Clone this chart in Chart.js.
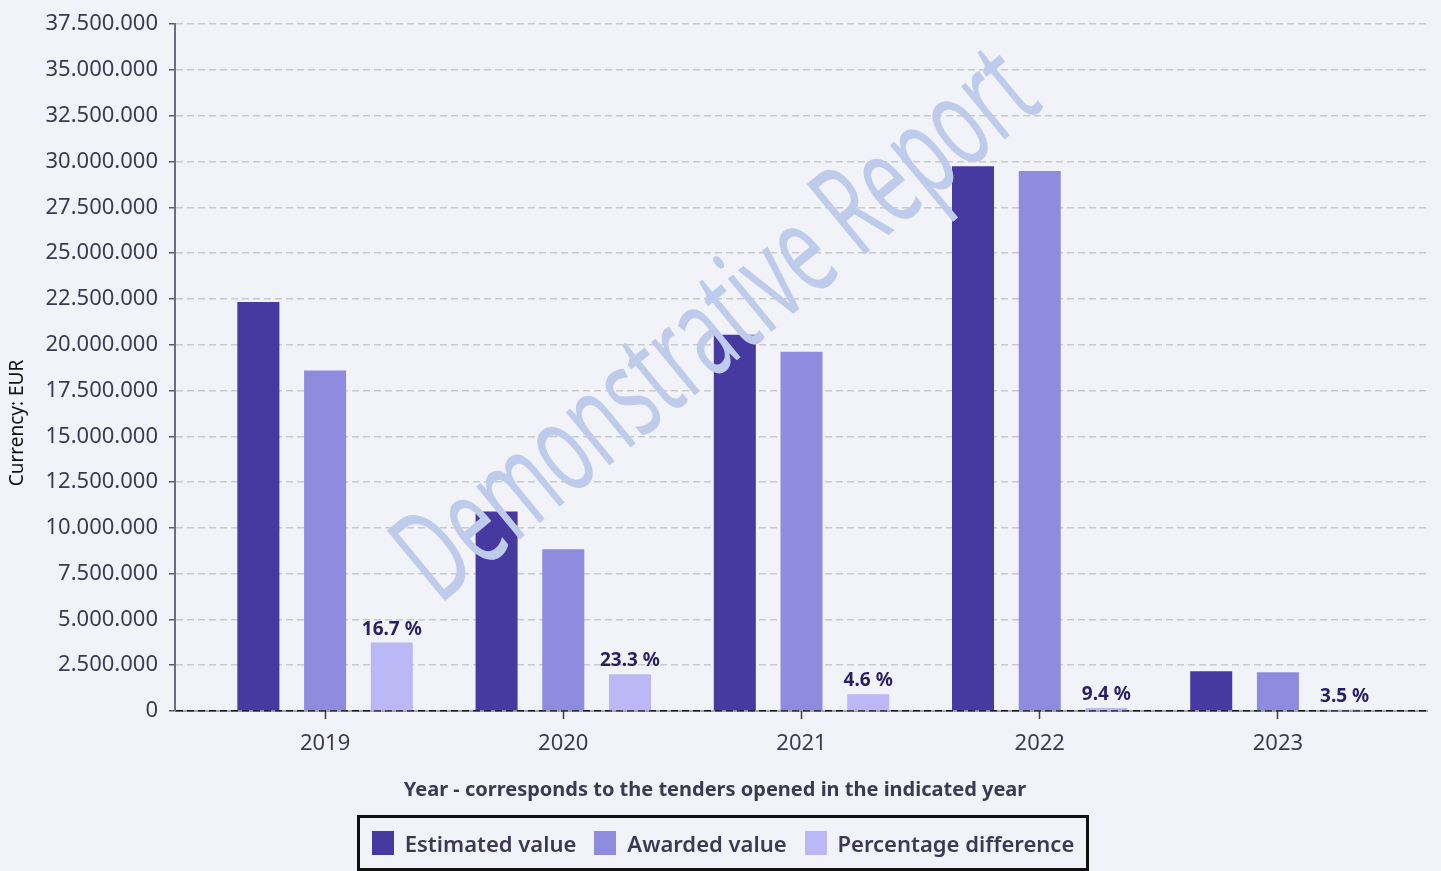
<!DOCTYPE html>
<html>
<head>
<meta charset="utf-8">
<script src="https://cdn.jsdelivr.net/npm/chart.js@4/dist/chart.umd.min.js"></script>
<style>
    html, body { margin: 0; padding: 0; background: #f2f3f8; }
    #wrap { position: relative; width: 1441px; height: 871px; }
    #legend {
        position: absolute; left: 357px; top: 815px; width: 726px; height: 50px;
        border: 3px solid #111; display: flex; align-items: center; justify-content: center;
        font-family: 'Noto Sans', sans-serif; font-weight: 600; font-size: 22px; color: #3c3a52;
    }
    #legend .item { display: flex; align-items: center; margin: 0 9px; }
    #legend .box { width: 22px; height: 24px; margin-right: 11px; }
</style>
</head>
<body>
<div id="wrap">
    <canvas id="chart"></canvas>
    <div id="legend"></div>
</div>
<script>
// Dados
const years = [2019, 2020, 2021, 2022, 2023];
const estimatedValue = [22330000, 10890000, 20540000, 29750000, 2170000];
const awardedValue = [18590000, 8830000, 19620000, 29480000, 2110000];
const differenceValue = [3740000, 2000000, 920000, 160000, 70000];
const percentLabels = [16.7, 23.3, 4.6, 9.4, 3.5];
const yTicksMax = 37500000;
const yTicksStep = 2500000;

const COLORS = {
    estimated: '#4639a0',
    awarded: '#8f8bde',
    difference: '#bcb8f6',
    text: '#3c3a52',
    label: '#281f63',
    watermark: '#bfcbea'
};

Chart.defaults.font.family = "'Noto Sans', sans-serif";
Chart.defaults.color = COLORS.text;

const toPoints = arr => arr.map((v, i) => ({ x: years[i], y: v }));
const formatThousands = v => String(v).replace(/\B(?=(\d{3})+(?!\d))/g, '.');

// Linha base, marca d'água, rótulos e títulos dos eixos
const extrasPlugin = {
    id: 'extras',
    beforeDraw(chart) {
        const { ctx, chartArea } = chart;
        const y0 = chart.scales.y.getPixelForValue(0);
        ctx.save();
        ctx.strokeStyle = '#a4a4ac';
        ctx.lineWidth = 2;
        ctx.beginPath();
        ctx.moveTo(chartArea.left, y0);
        ctx.lineTo(chartArea.right, y0);
        ctx.stroke();
        ctx.restore();
    },
    afterDatasetsDraw(chart) {
        const { ctx } = chart;
        ctx.save();
        ctx.translate(742, 356);
        ctx.rotate(-39.5 * Math.PI / 180);
        ctx.font = '128px "Noto Sans"';
        const w = ctx.measureText('Demonstrative Report').width;
        ctx.scale(785 / w, 1);
        ctx.fillStyle = COLORS.watermark;
        ctx.textAlign = 'center';
        ctx.textBaseline = 'alphabetic';
        ctx.fillText('Demonstrative Report', 0, 0);
        ctx.restore();

        // rótulos de percentagem
        const meta = chart.getDatasetMeta(2);
        ctx.save();
        ctx.font = 'bold 19px "Noto Sans"';
        ctx.fillStyle = COLORS.label;
        ctx.textAlign = 'center';
        ctx.textBaseline = 'alphabetic';
        meta.data.forEach((bar, i) => {
            ctx.fillText(percentLabels[i].toFixed(1) + ' %', bar.x, bar.y - 8);
        });
        ctx.restore();
    },
    afterDraw(chart) {
        const { ctx } = chart;
        ctx.save();
        ctx.fillStyle = COLORS.text;
        ctx.textAlign = 'center';
        ctx.textBaseline = 'middle';
        ctx.font = 'bold 20px "Noto Sans"';
        ctx.fillText('Year - corresponds to the tenders opened in the indicated year', 715, 790);
        ctx.translate(18, 423);
        ctx.rotate(-Math.PI / 2);
        ctx.fillStyle = '#111';
        ctx.font = '19px "Noto Sans"';
        ctx.fillText('Currency: EUR', 0, 0);
        ctx.restore();
    }
};

const chart = new Chart(document.getElementById('chart').getContext('2d'), {
    type: 'bar',
    data: {
        datasets: [
            { label: 'Estimated value', data: toPoints(estimatedValue), backgroundColor: COLORS.estimated },
            { label: 'Awarded value', data: toPoints(awardedValue), backgroundColor: COLORS.awarded },
            { label: 'Percentage difference', data: toPoints(differenceValue), backgroundColor: COLORS.difference }
        ]
    },
    options: {
        responsive: true,
        maintainAspectRatio: false,
        animation: false,
        categoryPercentage: 0.84,
        barPercentage: 0.63,
        layout: { padding: { top: 19, right: 13, bottom: 0, left: 0 } },
        plugins: {
            legend: { display: false },
            tooltip: { enabled: false }
        },
        scales: {
            x: {
                type: 'linear',
                offset: false,
                min: 2018.37,
                max: 2023.63,
                afterFit: s => { s.height = 160; },
                ticks: {
                    stepSize: 1,
                    includeBounds: false,
                    padding: 12,
                    font: { size: 22 },
                    callback: v => String(v)
                },
                grid: {
                    offset: false,
                    drawOnChartArea: false,
                    drawTicks: true,
                    tickLength: 8,
                    color: COLORS.text,
                    tickColor: COLORS.text,
                    tickWidth: 1.5
                },
                border: { display: false }
            },
            y: {
                min: 0,
                max: yTicksMax,
                afterFit: s => { s.width = 175; },
                ticks: {
                    stepSize: yTicksStep,
                    padding: 11,
                    font: { size: 22 },
                    callback: v => formatThousands(v)
                },
                grid: {
                    color: c => (c.tick && c.tick.value === 0) ? '#1a1a1a' : '#c9c9cf',
                    lineWidth: 1.5,
                    tickLength: 6,
                    tickColor: '#5a5870',
                    tickWidth: 1.5,
                    tickBorderDash: []
                },
                border: { display: true, color: '#6e6c80', width: 2, dash: [7, 4] }
            }
        }
    },
    plugins: [extrasPlugin]
});

// Legenda HTML
const legendEl = document.getElementById('legend');
chart.data.datasets.forEach(ds => {
    const item = document.createElement('div');
    item.className = 'item';
    const box = document.createElement('span');
    box.className = 'box';
    box.style.background = ds.backgroundColor;
    const txt = document.createElement('span');
    txt.textContent = ds.label;
    item.appendChild(box);
    item.appendChild(txt);
    legendEl.appendChild(item);
});
</script>
</body>
</html>
